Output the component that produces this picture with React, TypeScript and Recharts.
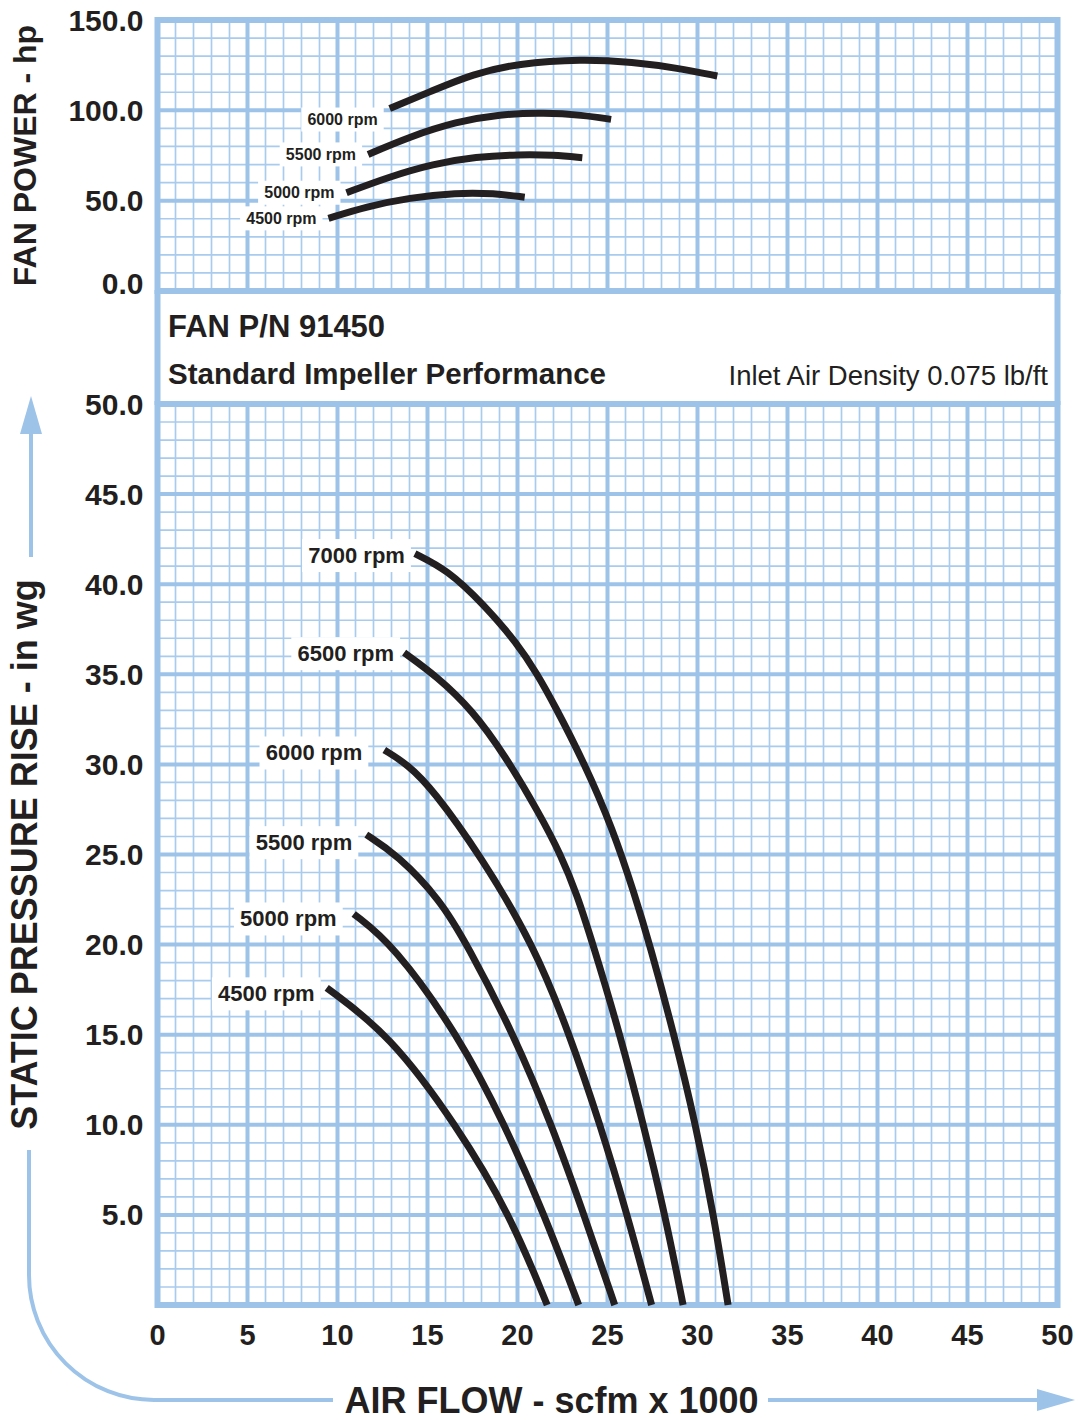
import React from "react";
import { LineChart, Line, XAxis, YAxis, CartesianGrid, ReferenceArea, Label } from "recharts";

const INK = "#231f20";
const BLUE = "#9dc3e8";
const BLUE_MINOR = "#a9cbee";
const FONT = "'Liberation Sans', Arial, Helvetica, sans-serif";

// air flow axis (scfm x 1000)
const xMajorTicks = [0, 5, 10, 15, 20, 25, 30, 35, 40, 45, 50];
const xMinorTicks = Array.from({ length: 51 }, (_, i) => i);

// fan power axis (hp)
const powerTicks = [0, 50, 100, 150];
const powerMinorTicks = [0, 10, 20, 30, 40, 50, 60, 70, 80, 90, 100, 110, 120, 130, 140, 150];

// static pressure axis (in wg)
const pressureTicks = [5, 10, 15, 20, 25, 30, 35, 40, 45, 50];
const pressureMinorTicks = Array.from({ length: 51 }, (_, i) => i);

// fan power curves [flow, hp]
const power6000 = [[12.9, 101], [15.3, 111], [17.5, 120], [20.0, 126], [23.6, 128.4], [26.4, 126.7], [28.9, 123.4], [31.1, 119]];
const power5500 = [[11.7, 75.6], [14.0, 85.4], [16.6, 93.7], [19.0, 97.9], [21.5, 98.7], [23.6, 97.4], [25.2, 95]];
const power5000 = [[10.5, 54.4], [12.9, 63.3], [15.3, 70.3], [17.7, 74.3], [20.1, 75.6], [22.0, 75.3], [23.6, 73.8]];
const power4500 = [[9.5, 40.2], [11.6, 46.7], [14.0, 51.6], [16.6, 54.4], [18.7, 54.1], [20.4, 51.9]];

// static pressure curves [flow, in wg]
const pressure7000 = [[14.3, 41.7], [16.1, 40.8], [18.1, 38.9], [20.0, 36.7], [21.1, 35.0], [22.0, 33.4], [23.7, 30.1], [25.3, 26.4], [26.5, 22.8], [27.35, 20.0], [28.7, 15.0], [29.9, 10.0], [30.9, 5.0], [31.7, 0]];
const pressure6500 = [[13.7, 36.2], [15.5, 34.9], [17.5, 33.0], [19.3, 30.5], [21.2, 27.3], [22.4, 25.0], [23.3, 22.8], [24.2, 20.0], [25.7, 15.0], [27.0, 10.0], [28.2, 5.0], [29.2, 0]];
const pressure6000 = [[12.6, 30.8], [13.9, 30.0], [15.3, 28.6], [17.9, 25.0], [20.9, 20.0], [22.9, 15.0], [24.6, 10.0], [26.1, 5.0], [27.45, 0]];
const pressure5500 = [[11.6, 26.1], [13.3, 25.0], [15.7, 22.5], [17.2, 20.0], [19.8, 15.0], [21.9, 10.0], [23.7, 5.0], [25.4, 0]];
const pressure5000 = [[10.9, 21.7], [13.1, 20.0], [16.7, 15.0], [19.3, 10.0], [21.5, 5.0], [23.4, 0]];
const pressure4500 = [[9.4, 17.6], [12.9, 15.0], [16.6, 10.0], [19.6, 5.0], [21.65, 0]];

const powerSeries = [
  { name: "6000 rpm", values: power6000 },
  { name: "5500 rpm", values: power5500 },
  { name: "5000 rpm", values: power5000 },
  { name: "4500 rpm", values: power4500 },
];

const pressureSeries = [
  { name: "7000 rpm", values: pressure7000 },
  { name: "6500 rpm", values: pressure6500 },
  { name: "6000 rpm", values: pressure6000 },
  { name: "5500 rpm", values: pressure5500 },
  { name: "5000 rpm", values: pressure5000 },
  { name: "4500 rpm", values: pressure4500 },
];

// tag placement tweaks: [extra gap to the left, vertical shift]
const powerTagShift: Record<string, number[]> = { "6000 rpm": [0, 11] };
const pressureTagShift: Record<string, number[]> = {
  "7000 rpm": [-2, 2],
  "6500 rpm": [-2, 1],
  "6000 rpm": [10, 3],
  "5500 rpm": [2, 8],
  "5000 rpm": [5, 5],
  "4500 rpm": [0, 6],
};

const toPoints = (pairs: number[][]) => pairs.map(([x, y]) => ({ x, y }));

// rpm tag drawn at the first point of each curve, on a white patch
function startLabel(text: string, fontSize: number, gap: number, dy = 0) {
  return (props: any) => {
    const { cx, cy, index } = props;
    if (index !== 0) return <g key={`d-${index}`} />;
    const w = text.length * fontSize * 0.55;
    const ty = cy + dy;
    return (
      <g key={`d-${index}`}>
        <rect x={cx - gap - w - 6} y={ty - fontSize * 0.75} width={w + 12} height={fontSize * 1.5} fill="#fff" />
        <text x={cx - gap} y={ty} textAnchor="end" dominantBaseline="central" fontSize={fontSize} fontWeight="bold" fill={INK} fontFamily={FONT}>
          {text}
        </text>
      </g>
    );
  };
}

const NoTick = () => <g />;

const YTick = (props: any) => {
  const { x, y, payload, liftZero } = props;
  const dy = liftZero && payload.value === 0 ? -8 : 0;
  return (
    <text x={x} y={y + dy} textAnchor="end" dominantBaseline="central" fontSize={30} fontWeight="bold" fill={INK} fontFamily={FONT}>
      {Number(payload.value).toFixed(1)}
    </text>
  );
};

const XTick = (props: any) => {
  const { x, y, payload } = props;
  return (
    <text x={x} y={y} textAnchor="middle" dominantBaseline="central" fontSize={29} fontWeight="bold" fill={INK} fontFamily={FONT}>
      {payload.value}
    </text>
  );
};

const SideTitle = ({ viewBox, text, size }: any) => {
  const cx = viewBox.x + 17;
  const cy = viewBox.y + viewBox.height / 2;
  return (
    <text transform={`translate(${cx},${cy}) rotate(-90)`} textAnchor="middle" dominantBaseline="central" fontSize={size} fontWeight="bold" fill={INK} fontFamily={FONT}>
      {text}
    </text>
  );
};

const BottomTitle = ({ viewBox }: any) => (
  <text x={viewBox.x + viewBox.width / 2 - 56} y={viewBox.y + 95} textAnchor="middle" dominantBaseline="central" fontSize={36} fontWeight="bold" fill={INK} fontFamily={FONT}>
    AIR FLOW - scfm x 1000
  </text>
);

export default function App() {
  return (
    <div style={{ position: "absolute", left: 0, top: 0, width: 1078, height: 1420, background: "#fff", fontFamily: FONT }}>
      {/* fan power panel */}
      <div style={{ position: "absolute", left: 0, top: 0 }}>
        <LineChart width={1078} height={300} margin={{ top: 20, right: 20.5, bottom: 9, left: 7.5 }}>
          <XAxis xAxisId="x" dataKey="x" type="number" domain={[0, 50]} ticks={xMajorTicks} height={0} tick={<NoTick />} axisLine={false} tickLine={false} interval={0} />
          <YAxis yAxisId="y" type="number" domain={[0, 150]} ticks={powerTicks} width={150} tick={<YTick liftZero />} axisLine={false} tickLine={false} tickMargin={8} interval={0}>
            <Label content={(p: any) => <SideTitle viewBox={p.viewBox} text="FAN POWER - hp" size={32} />} />
          </YAxis>
          <CartesianGrid xAxisId="x" yAxisId="y" verticalValues={xMinorTicks} horizontalValues={powerMinorTicks} stroke={BLUE_MINOR} strokeWidth={1.7} />
          <CartesianGrid xAxisId="x" yAxisId="y" stroke={BLUE} strokeWidth={4} />
          <ReferenceArea xAxisId="x" yAxisId="y" x1={0} x2={50} y1={0} y2={150} fill="none" fillOpacity={0} stroke={BLUE} strokeWidth={6} />
          {powerSeries.map((s) => {
            const [g, dy] = powerTagShift[s.name] ?? [0, 0];
            return (
              <Line
                key={s.name}
                data={toPoints(s.values)}
                dataKey="y"
                xAxisId="x"
                yAxisId="y"
                type="basis"
                stroke={INK}
                strokeWidth={7}
                dot={startLabel(s.name, 16, 12 + g, dy)}
                activeDot={false}
                isAnimationActive={false}
              />
            );
          })}
        </LineChart>
      </div>

      {/* static pressure panel */}
      <div style={{ position: "absolute", left: 0, top: 300 }}>
        <LineChart width={1078} height={1120} margin={{ top: 104, right: 20.5, bottom: 0, left: 7.5 }}>
          <XAxis xAxisId="x" dataKey="x" type="number" domain={[0, 50]} ticks={xMajorTicks} height={115} tick={<XTick />} axisLine={false} tickLine={false} tickMargin={24} interval={0}>
            <Label content={(p: any) => <BottomTitle viewBox={p.viewBox} />} />
          </XAxis>
          <YAxis yAxisId="y" type="number" domain={[0, 50]} ticks={pressureTicks} width={150} tick={<YTick />} axisLine={false} tickLine={false} tickMargin={8} interval={0}>
            <Label content={(p: any) => <SideTitle viewBox={p.viewBox} text="STATIC PRESSURE RISE - in wg" size={36} />} />
          </YAxis>
          <CartesianGrid xAxisId="x" yAxisId="y" verticalValues={xMinorTicks} horizontalValues={pressureMinorTicks} stroke={BLUE_MINOR} strokeWidth={1.7} />
          <CartesianGrid xAxisId="x" yAxisId="y" stroke={BLUE} strokeWidth={4} />
          <ReferenceArea xAxisId="x" yAxisId="y" x1={0} x2={50} y1={0} y2={50} fill="none" fillOpacity={0} stroke={BLUE} strokeWidth={6} />
          {pressureSeries.map((s) => {
            const [g, dy] = pressureTagShift[s.name] ?? [0, 0];
            return (
              <Line
                key={s.name}
                data={toPoints(s.values)}
                dataKey="y"
                xAxisId="x"
                yAxisId="y"
                type="basis"
                stroke={INK}
                strokeWidth={7}
                dot={startLabel(s.name, 22, 12 + g, dy)}
                activeDot={false}
                isAnimationActive={false}
              />
            );
          })}
        </LineChart>
      </div>

      {/* title band and axis arrows */}
      <svg width={1078} height={1420} style={{ position: "absolute", left: 0, top: 0, pointerEvents: "none" }}>
        <line x1={157.5} y1={290} x2={157.5} y2={405} stroke={BLUE} strokeWidth={6} />
        <line x1={1057.5} y1={290} x2={1057.5} y2={405} stroke={BLUE} strokeWidth={6} />
        <text x={168} y={337} fontSize={31} fontWeight="bold" fill={INK} fontFamily={FONT}>FAN P/N 91450</text>
        <text x={168} y={384} fontSize={30} fontWeight="bold" fill={INK} fontFamily={FONT} textLength={438} lengthAdjust="spacingAndGlyphs">
          Standard Impeller Performance
        </text>
        <text x={1048} y={385} textAnchor="end" fontSize={27.5} fill={INK} fontFamily={FONT}>Inlet Air Density 0.075 lb/ft</text>

        <line x1={31} y1={557} x2={31} y2={430} stroke={BLUE} strokeWidth={4} />
        <polygon points="31,396 20,434 42,434" fill={BLUE} />
        <path d="M 29 1150 V 1275 A 125 125 0 0 0 154 1400 H 333" fill="none" stroke={BLUE} strokeWidth={4} />
        <line x1={768} y1={1400} x2={1040} y2={1400} stroke={BLUE} strokeWidth={4} />
        <polygon points="1075,1400 1037,1389 1037,1411" fill={BLUE} />
      </svg>
    </div>
  );
}
